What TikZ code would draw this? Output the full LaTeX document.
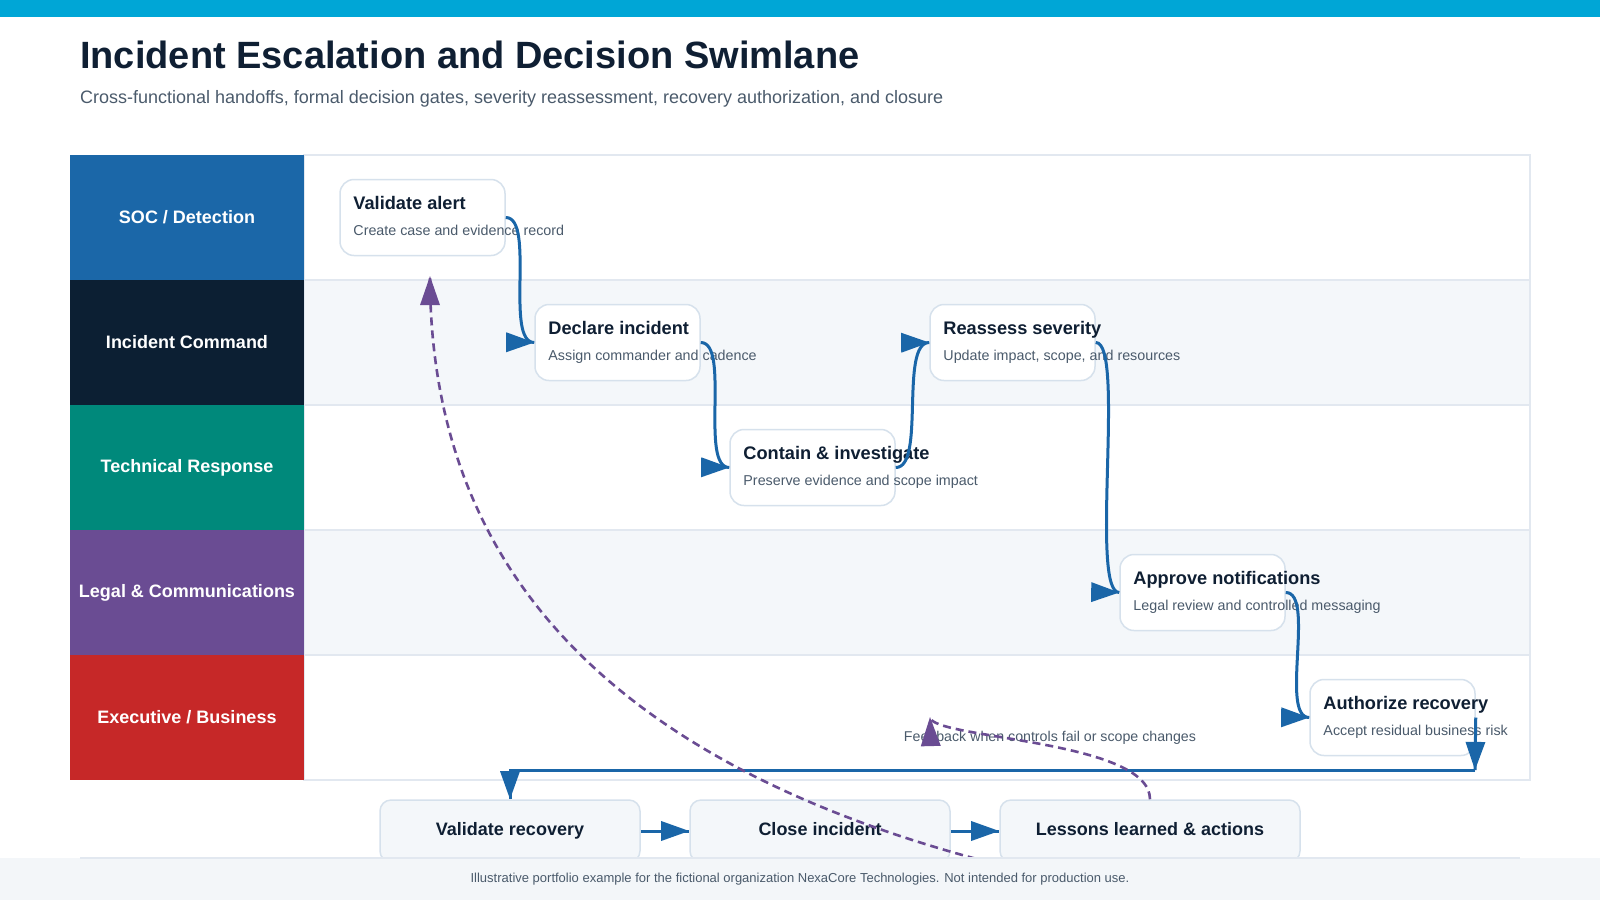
\documentclass[tikz,border=0pt]{standalone}
\usepackage{fontspec}
\setmainfont{Liberation Sans}
\usepackage{xcolor}
\usepackage{tikz}
\usetikzlibrary{positioning,arrows.meta,decorations.markings}

\definecolor{topbar}{HTML}{00A6D6}
\definecolor{titlecol}{HTML}{0F1F33}
\definecolor{subcol}{HTML}{4A5A6B}
\definecolor{laneline}{HTML}{E2E8F0}
\definecolor{lanealt}{HTML}{F4F7FA}
\definecolor{boxline}{HTML}{D6E1EC}
\definecolor{flowblue}{HTML}{1A66A8}
\definecolor{loopviolet}{HTML}{6A4C93}
\definecolor{socblue}{HTML}{1B67A8}
\definecolor{cmdnavy}{HTML}{0C1F33}
\definecolor{techteal}{HTML}{00897B}
\definecolor{legalviolet}{HTML}{6A4C93}
\definecolor{execred}{HTML}{C62828}
\definecolor{footbg}{HTML}{F3F6F9}

\begin{document}
\begin{tikzpicture}[x=1pt,y=-1pt,
    lanehead/.style={minimum width=234pt, minimum height=125pt, inner sep=0pt, text=white, font={\fontsize{18}{22}\selectfont\bfseries}},
    task/.style={draw=boxline, line width=1.5pt, fill=white, rounded corners=14pt, minimum width=165pt, minimum height=76pt, inner sep=0pt},
    tasktitle/.style={anchor=base west, inner sep=0pt, text=titlecol, font={\fontsize{18.2}{22}\selectfont\bfseries}},
    tasknote/.style={anchor=base west, inner sep=0pt, text=subcol, font={\fontsize{14.3}{17}\selectfont}},
    endbox/.style={draw=boxline, line width=1.5pt, fill=lanealt, rounded corners=11pt, minimum height=62pt, inner sep=0pt, text height=13pt, text depth=4pt, text=titlecol, font={\fontsize{18}{22}\selectfont\bfseries}},
    flow/.style={draw=flowblue, line width=3pt, postaction={decorate}, decoration={markings, mark=at position -0.1pt with {\arrow[flowblue, line width=0pt]{Triangle[length=28pt,width=20pt]}}}},
    loopback/.style={draw=loopviolet, line width=2.6pt, dash pattern=on 8pt off 5pt, postaction={decorate}, decoration={markings, mark=at position -0.1pt with {\arrow[loopviolet, line width=0pt, solid]{Triangle[length=29pt,width=20pt]}}}}]
                \useasboundingbox (0,0) rectangle (1600,900);
                \fill[topbar] (0,0) rectangle (1600,17);
                \node[anchor=base west, inner sep=0pt, text=titlecol, font={\fontsize{38}{44}\selectfont\bfseries}] (title) at (80,68) {Incident Escalation and Decision Swimlane};
                \node[anchor=base west, inner sep=0pt, text=subcol, font={\fontsize{18}{21}\selectfont}] (subtitle) at (80,103) {Cross-functional handoffs, formal decision gates, severity reassessment, recovery authorization, and closure};
                % lanes
                \draw[laneline, line width=1.5pt, fill=white] (304,155) rectangle (1530,280);
                \draw[laneline, line width=1.5pt, fill=lanealt] (304,280) rectangle (1530,405);
                \draw[laneline, line width=1.5pt, fill=white] (304,405) rectangle (1530,530);
                \draw[laneline, line width=1.5pt, fill=lanealt] (304,530) rectangle (1530,655);
                \draw[laneline, line width=1.5pt, fill=white] (304,655) rectangle (1530,780);
                \node[lanehead, fill=socblue] (socL) at (187,217.5) {SOC / Detection};
                \node[lanehead, fill=cmdnavy] (cmdL) at (187,342.5) {Incident Command};
                \node[lanehead, fill=techteal] (techL) at (187,467.5) {Technical Response};
                \node[lanehead, fill=legalviolet] (legalL) at (187,592.5) {Legal \& Communications};
                \node[lanehead, fill=execred] (execL) at (187,717.5) {Executive / Business};
                % tasks
                \node[task] (alert) at (422.5,217.5) {};
                \node[tasktitle] (alertT) at ([shift={(14,31)}]alert.north west) {Validate alert};
                \node[tasknote] (alertN) at ([shift={(14,57)}]alert.north west) {Create case and evidence record};
                \node[task] (declare) at (617.5,342.5) {};
                \node[tasktitle] (declareT) at ([shift={(14,31)}]declare.north west) {Declare incident};
                \node[tasknote] (declareN) at ([shift={(14,57)}]declare.north west) {Assign commander and cadence};
                \node[task] (contain) at (812.5,467.5) {};
                \node[tasktitle] (containT) at ([shift={(14,31)}]contain.north west) {Contain \& investigate};
                \node[tasknote] (containN) at ([shift={(14,57)}]contain.north west) {Preserve evidence and scope impact};
                \node[task] (reassess) at (1012.5,342.5) {};
                \node[tasktitle] (reassessT) at ([shift={(14,31)}]reassess.north west) {Reassess severity};
                \node[tasknote] (reassessN) at ([shift={(14,57)}]reassess.north west) {Update impact, scope, and resources};
                \node[task] (approve) at (1202.5,592.5) {};
                \node[tasktitle] (approveT) at ([shift={(14,31)}]approve.north west) {Approve notifications};
                \node[tasknote] (approveN) at ([shift={(14,57)}]approve.north west) {Legal review and controlled messaging};
                \node[task] (authorize) at (1392.5,717.5) {};
                \node[tasktitle] (authorizeT) at ([shift={(14,31)}]authorize.north west) {Authorize recovery};
                \node[tasknote] (authorizeN) at ([shift={(14,57)}]authorize.north west) {Accept residual business risk};
                % closing steps
                \node[endbox, minimum width=260pt] (valrec) at (510,831) {Validate recovery};
                \node[endbox, minimum width=260pt] (close) at (820,831) {Close incident};
                \node[endbox, minimum width=300pt] (lessons) at (1150,831) {Lessons learned \& actions};
                \node[anchor=base, inner sep=0pt, text=subcol, font={\fontsize{14.2}{17}\selectfont}] (fbnote) at (1050,741) {Feedback when controls fail or scope changes};
                % handoffs
                \draw[flow] (alert.east) .. controls +(30,0) and +(-30,0) .. (declare.west);
                \draw[flow] (declare.east) .. controls +(30,0) and +(-30,0) .. (contain.west);
                \draw[flow] (contain.east) .. controls +(30,0) and +(-30,0) .. (reassess.west);
                \draw[flow] (reassess.east) .. controls +(30,0) and +(-30,0) .. (approve.west);
                \draw[flow] (approve.east) .. controls +(30,0) and +(-30,0) .. (authorize.west);
                \coordinate (handback) at (1475,770);
                \draw[flow] (authorize.east) -- (handback);
                \draw[flow] (handback) -| (valrec.north);
                \draw[flow] (valrec.east) -- (close.west);
                \draw[flow] (close.east) -- (lessons.west);
                % feedback loops
                \coordinate (fbtip) at (930,717);
                \draw[loopback] (lessons.north) .. controls +(0,-60) and +(0,22) .. (fbtip);
                \coordinate (reopen) at (988,862);
                \coordinate (alertback) at (430,276);
                \draw[loopback] (reopen) .. controls (600,760) and (430,560) .. (alertback);
                % footer
                \fill[footbg] (0,858) rectangle (1600,900);
                \draw[laneline, line width=1.5pt] (80,858) -- (1520,858);
                \node[anchor=base, inner sep=0pt, text=subcol, font={\fontsize{13}{16}\selectfont}] (footnote) at (800,882) {Illustrative portfolio example for the fictional organization NexaCore Technologies. Not intended for production use.};
            \end{tikzpicture}
\end{document}
